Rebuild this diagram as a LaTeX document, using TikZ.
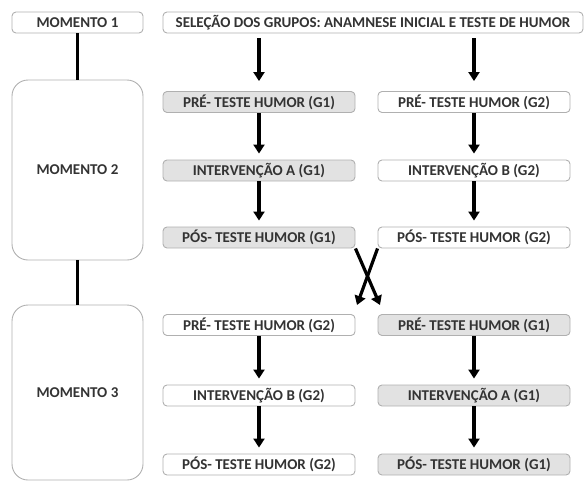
\documentclass[tikz,border=0pt]{standalone}
\usepackage{fontspec}
\setmainfont{Carlito}
\usetikzlibrary{arrows.meta}
\definecolor{boxline}{HTML}{B0B0B0}
\definecolor{boxgray}{HTML}{E2E2E2}
\definecolor{txt}{HTML}{333333}
\begin{document}
\begin{tikzpicture}[x=1pt,y=-1pt,
  lbl/.style={font=\fontsize{15}{17}\selectfont\bfseries, text=txt},
  sbox/.style={lbl, draw=boxline, line width=0.9pt, rounded corners=4pt, minimum height=21pt, inner sep=0pt, fill=white},
  gbox/.style={sbox, fill=boxgray},
  bigbox/.style={lbl, draw=boxline, line width=0.9pt, rounded corners=16pt, minimum width=131pt, inner sep=0pt},
  arr/.style={line width=3.2pt, -{Triangle[width=11pt,length=9pt]}},
  link/.style={line width=3.4pt}]
\useasboundingbox (0,0) rectangle (586,482);
% moments
\node[sbox, minimum width=131pt] (m1) at (77.5,22.5) {MOMENTO 1};
\node[bigbox, minimum height=180pt] (m2) at (77.5,170) {MOMENTO 2};
\node[bigbox, minimum height=175pt] (m3) at (77.5,392.5) {MOMENTO 3};
\draw[link] (m1.south) -- (m2.north);
\draw[link] (m2.south) -- (m3.north);
% top
\node[sbox, minimum width=420pt] (sel) at (373,22.5) {SELEÇÃO DOS GRUPOS: ANAMNESE INICIAL E TESTE DE HUMOR};
% left column
\node[gbox, minimum width=192pt] (l1) at (259,102) {PRÉ- TESTE HUMOR (G1)};
\node[gbox, minimum width=192pt] (l2) at (259,170.5) {INTERVENÇÃO A (G1)};
\node[gbox, minimum width=192pt] (l3) at (259,237.5) {PÓS- TESTE HUMOR (G1)};
\node[sbox, minimum width=192pt] (l4) at (259,325) {PRÉ- TESTE HUMOR (G2)};
\node[sbox, minimum width=192pt] (l5) at (259,395.5) {INTERVENÇÃO B (G2)};
\node[sbox, minimum width=192pt] (l6) at (259,464.5) {PÓS- TESTE HUMOR (G2)};
% right column
\node[sbox, minimum width=192pt] (r1) at (474,102) {PRÉ- TESTE HUMOR (G2)};
\node[sbox, minimum width=192pt] (r2) at (474,170.5) {INTERVENÇÃO B (G2)};
\node[sbox, minimum width=192pt] (r3) at (474,237.5) {PÓS- TESTE HUMOR (G2)};
\node[gbox, minimum width=192pt] (r4) at (474,325) {PRÉ- TESTE HUMOR (G1)};
\node[gbox, minimum width=192pt] (r5) at (474,395.5) {INTERVENÇÃO A (G1)};
\node[gbox, minimum width=192pt] (r6) at (474,464.5) {PÓS- TESTE HUMOR (G1)};
% arrows
\coordinate (sl) at (259,33);
\coordinate (sr) at (474,33);
\draw[arr, shorten <=5pt, shorten >=10pt] (sl) -- (l1.north);
\draw[arr, shorten <=5pt, shorten >=10pt] (sr) -- (r1.north);
\foreach \a/\b in {l1/l2,l2/l3,l4/l5,l5/l6,r1/r2,r2/r3,r4/r5,r5/r6}
  \draw[arr, shorten >=6pt] (\a.south) -- (\b.north);
% crossing
\coordinate (c1) at (380,305);
\coordinate (c2) at (357,305);
\draw[arr] (l3.south east) -- (c1);
\draw[arr] (r3.south west) -- (c2);
\end{tikzpicture}
\end{document}
